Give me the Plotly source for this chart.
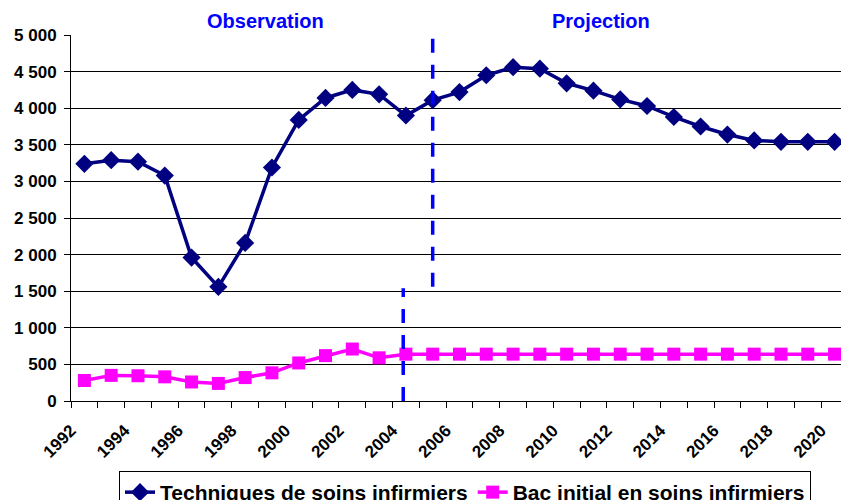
import plotly.graph_objects as go

years = list(range(1992, 2021))
techniques = [3240, 3290, 3270, 3080, 1960, 1560, 2160, 3190, 3840, 4140,
              4250, 4190, 3900, 4110, 4220, 4450, 4560, 4540, 4340, 4240,
              4120, 4030, 3880, 3750, 3640, 3560, 3540, 3540, 3540]
bac = [280, 350, 345, 330, 260, 240, 320, 385, 520, 620,
       710, 590, 640, 640, 640, 640, 640, 640, 640, 640,
       640, 640, 640, 640, 640, 640, 640, 640, 640]
tick_years = list(range(1992, 2021, 2))

font = "Liberation Sans, Arial, sans-serif"

fig = go.Figure()
fig.add_trace(go.Scatter(
    x=years, y=techniques, name="Techniques de soins infirmiers",
    mode="lines+markers",
    line=dict(color="#000080", width=3.5),
    marker=dict(symbol="diamond", size=14, color="#000080")))
fig.add_trace(go.Scatter(
    x=years, y=bac, name="Bac initial en soins infirmiers",
    mode="lines+markers",
    line=dict(color="#FF00FF", width=3.5),
    marker=dict(symbol="square", size=13, color="#FF00FF")))

# separation observation / projection
dash = "14px,12px"
shapes = [
    dict(type="line", xref="x", yref="y", x0=2003.9, x1=2003.9, y0=0, y1=1540,
         line=dict(color="#0000FF", width=3.5, dash=dash)),
    dict(type="line", xref="x", yref="y", x0=2005.0, x1=2005.0, y0=1560, y1=4960,
         line=dict(color="#0000FF", width=3.5, dash=dash)),
]

annotations = [
    dict(x=0.253, y=1.0, xref="paper", yref="paper", xanchor="center",
         yanchor="bottom", yshift=1,
         text="<b>Observation</b>", showarrow=False,
         font=dict(family=font, size=20, color="#0000FF")),
    dict(x=0.688, y=1.0, xref="paper", yref="paper", xanchor="center",
         yanchor="bottom", yshift=1,
         text="<b>Projection</b>", showarrow=False,
         font=dict(family=font, size=20, color="#0000FF")),
]

fig.update_layout(
    width=841, height=500,
    margin=dict(l=71, r=0, t=35, b=99, autoexpand=False),
    plot_bgcolor="white", paper_bgcolor="white",
    separators=", ",
    font=dict(family=font, color="black"),
    shapes=shapes, annotations=annotations,
    showlegend=True,
    legend=dict(orientation="h", xref="container", yref="container",
                x=0.1415, y=0.058, xanchor="left", yanchor="top",
                bordercolor="black", borderwidth=1,
                font=dict(family=font, size=21, weight="bold"),
                itemwidth=30, tracegroupgap=0),
    xaxis=dict(range=[1991.5, 2020.24],
               tickvals=[y - 0.5 for y in tick_years],
               ticktext=[str(y) for y in tick_years], tickangle=-45,
               ticks="outside", ticklen=6, tickcolor="black",
               showgrid=False, showline=True, linecolor="black",
               tickfont=dict(family=font, size=17, weight="bold"),
               ticklabeloverflow="allow", ticklabelstandoff=6,
               minor=dict(tick0=1991.5, dtick=1, ticks="outside", ticklen=6,
                          tickcolor="black", showgrid=False),
               zeroline=False, automargin=False),
    yaxis=dict(range=[0, 5000], dtick=500, tickformat=",d",
               showgrid=True, gridcolor="black", gridwidth=1,
               showline=True, linecolor="black", ticks="outside", ticklen=6,
               tickcolor="black", ticklabelstandoff=4,
               tickfont=dict(family=font, size=17, weight="bold"),
               zeroline=False, automargin=False),
)

# drop the default body margin so the 841x500 figure fills the window
fig.write_html("out.html", config={"displayModeBar": False},
               post_script="document.body.style.margin='0';"
                           "document.body.style.overflow='hidden';")
